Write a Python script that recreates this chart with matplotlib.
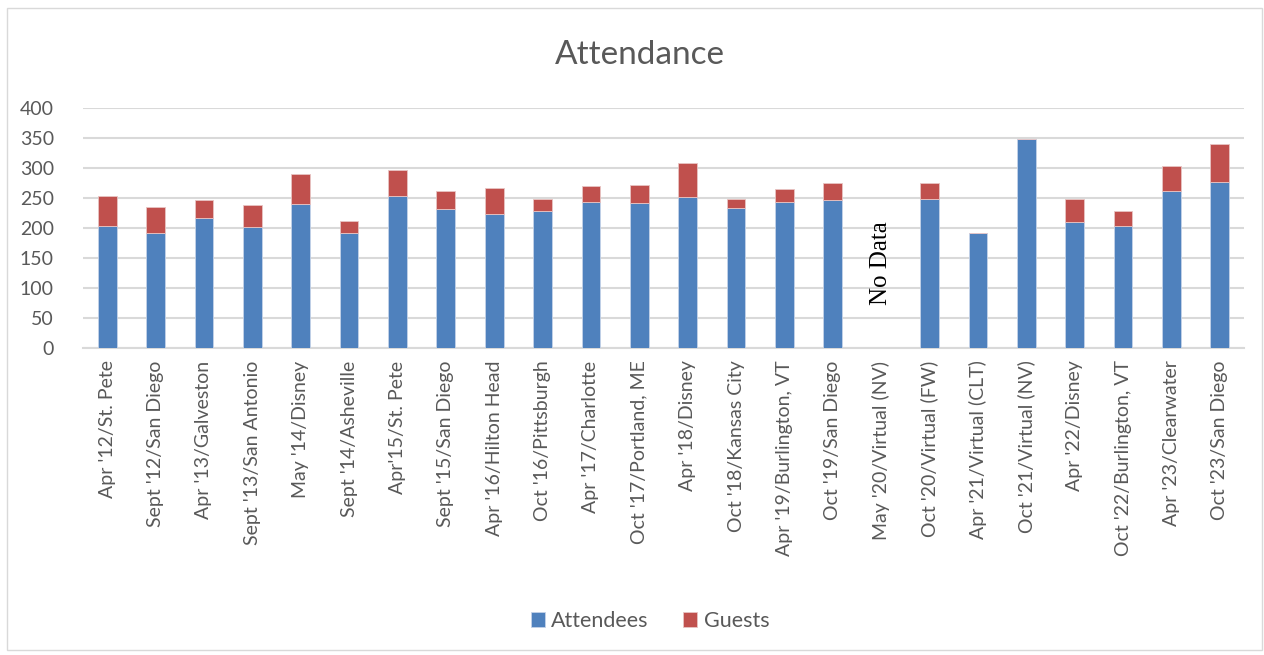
import numpy as np
import matplotlib
matplotlib.use("Agg")
import matplotlib.pyplot as plt
from matplotlib.patches import Rectangle

categories = ["Apr '12/St. Pete", "Sept '12/San Diego", "Apr '13/Galveston", "Sept '13/San Antonio",
              "May '14/Disney", "Sept '14/Asheville", "Apr'15/St. Pete", "Sept '15/San Diego",
              "Apr '16/Hilton Head", "Oct '16/Pittsburgh", "Apr '17/Charlotte", "Oct '17/Portland, ME",
              "Apr '18/Disney", "Oct '18/Kansas City", "Apr '19/Burlington, VT", "Oct '19/San Diego",
              "May '20/Virtual (NV)", "Oct '20/Virtual (FW)", "Apr '21/Virtual (CLT)", "Oct '21/Virtual (NV)",
              "Apr '22/Disney", "Oct '22/Burlington, VT", "Apr '23/Clearwater", "Oct '23/San Diego"]
attendees = [204, 191, 216, 201, 240, 191, 253, 231, 223, 228, 244, 241,
             252, 233, 244, 246, None, 249, 192, 348, 210, 204, 261, 276]
guests = [49, 44, 30, 37, 50, 20, 43, 31, 43, 21, 26, 31,
          56, 15, 21, 29, None, 26, 0, 0, 38, 24, 43, 64]
no_data_label = "No Data"
no_data_index = 16
no_data_y = 142

plt.rcParams['font.family'] = ['Lato', 'DejaVu Sans']
TXT = '#595959'
BLUE = '#4F81BD'
RED = '#C0504D'

W, H = 1264, 655
fig = plt.figure(figsize=(W / 100, H / 100), dpi=100)
fig.patches.append(Rectangle((7 / W, 1 - 650 / H), 1255 / W, 642 / H, transform=fig.transFigure,
                             fill=False, edgecolor='#D9D9D9', linewidth=1))

ax = fig.add_axes([83 / W, 1 - 348 / H, 1161 / W, 240 / H])
x = np.arange(len(categories))
a = np.array([np.nan if v is None else v for v in attendees], dtype=float)
g = np.array([np.nan if v is None else v for v in guests], dtype=float)
ax.bar(x, a, width=0.39, color=BLUE, edgecolor='#C5D3E8', linewidth=0.6, label='Attendees', zorder=3)
ax.bar(x, g, width=0.39, bottom=a, color=RED, edgecolor='#E8C4C3', linewidth=0.6, label='Guests', zorder=3)

ax.text(no_data_index, no_data_y, no_data_label, rotation=90, ha='center', va='center',
        fontsize=18, family='Liberation Serif', color='black')

ax.set_xlim(-0.5, len(categories) - 0.5)
ax.set_ylim(0, 400)
ax.set_yticks(np.arange(0, 401, 50))
ax.yaxis.grid(True, color='#D9D9D9', linewidth=1.5, zorder=0)
ax.set_axisbelow(True)
for s in ['top', 'right', 'left']:
    ax.spines[s].set_visible(False)
ax.spines['bottom'].set_color('#D9D9D9')
ax.spines['bottom'].set_linewidth(1.5)
ax.tick_params(axis='y', length=0, colors=TXT, labelsize=14, pad=21)
ax.tick_params(axis='x', length=0, colors=TXT, labelsize=14, pad=9)
ax.set_xticks(x)
ax.set_xticklabels(categories, rotation=90, ha='center', va='top')

fig.text(640 / W, 1 - 55 / H, 'Attendance', ha='center', va='center', fontsize=24, color=TXT)

handles, labels = ax.get_legend_handles_labels()
fig.legend(handles, labels, loc='center', bbox_to_anchor=(650 / W, 1 - 621 / H), ncol=2,
           frameon=False, fontsize=15.5, handlelength=0.65, handleheight=0.65, handletextpad=0.3,
           columnspacing=1.6, labelcolor=TXT)

fig.savefig('out.png', dpi=100)
